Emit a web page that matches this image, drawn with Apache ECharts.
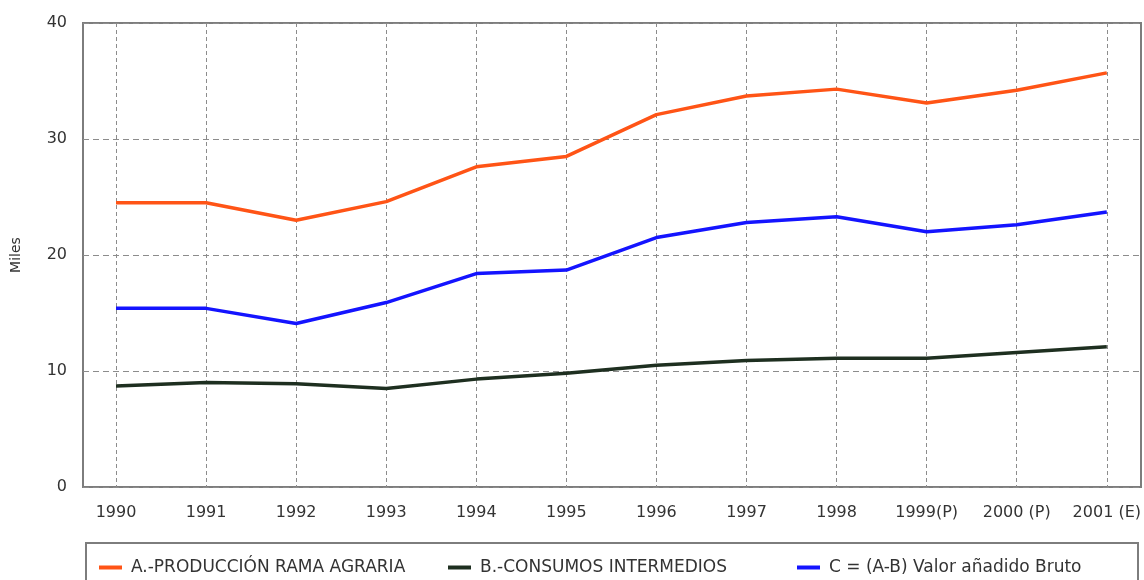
<!DOCTYPE html>
<html>
<head>
<meta charset="utf-8">
<script src="https://cdn.jsdelivr.net/npm/echarts@6/dist/echarts.min.js"></script>
<style>
html,body{margin:0;padding:0;background:#fff;}
#chart{width:1144px;height:580px;}
</style>
</head>
<body>
<div id="chart"></div>
<script>
var categories = ['1990','1991','1992','1993','1994','1995','1996','1997','1998','1999(P)','2000 (P)','2001 (E)'];
var produccion = [24.5,24.5,23.0,24.6,27.6,28.5,32.1,33.7,34.3,33.1,34.2,35.7];
var consumos   = [8.7,9.0,8.9,8.5,9.3,9.8,10.5,10.9,11.1,11.1,11.6,12.1];
var valor      = [15.4,15.4,14.1,15.9,18.4,18.7,21.5,22.8,23.3,22.0,22.6,23.7];
var yTicks = [0,10,20,30,40];
var names = ['A.-PRODUCCIÓN RAMA AGRARIA','B.-CONSUMOS INTERMEDIOS','C = (A-B) Valor añadido Bruto'];
var colors = ['#ff5416','#1e2f20','#1414ff'];

var chart = echarts.init(document.getElementById('chart'), null, {renderer:'canvas'});
var font = "'DejaVu Sans', sans-serif";
function mkLegend(i, left){
  return {
    data:[{name:names[i], icon:'rect'}],
    left:left, top:559,
    itemWidth:23, itemHeight:4,
    textStyle:{fontFamily:font, fontSize:17, color:'#333', padding:[0,0,0,4]},
    padding:0, itemGap:8
  };
}
chart.setOption({
  animation:false,
  backgroundColor:'#fff',
  grid:[
    {left:83, right:3, top:23, bottom:93, show:true, borderColor:'#7d7d7d', borderWidth:2, backgroundColor:'transparent'},
    {left:116, right:36, top:23, bottom:93}
  ],
  xAxis:[
    {gridIndex:0, type:'value', min:0, max:1, show:false},
    {gridIndex:1, type:'category', data:categories, boundaryGap:false,
     axisLine:{show:false}, axisTick:{show:false},
     axisLabel:{interval:0, margin:18, fontSize:16, fontFamily:font, color:'#333'},
     splitLine:{show:true, lineStyle:{type:[4,3], color:'#8c8c8c', width:1}}}
  ],
  yAxis:[
    {gridIndex:0, type:'value', min:yTicks[0], max:yTicks[yTicks.length-1], interval:10,
     name:'Miles', nameLocation:'middle', nameGap:60, nameRotate:90,
     nameTextStyle:{fontFamily:font, fontSize:14, color:'#333'},
     axisLine:{show:false}, axisTick:{show:false},
     axisLabel:{margin:16, fontSize:16, fontFamily:font, color:'#333'},
     splitLine:{show:true, lineStyle:{type:[6,4], color:'#8c8c8c', width:1}}},
    {gridIndex:1, type:'value', min:yTicks[0], max:yTicks[yTicks.length-1], show:false}
  ],
  legend:[mkLegend(0,99), mkLegend(1,448), mkLegend(2,797)],
  graphic:[{type:'rect', shape:{x:86, y:543, width:1052, height:60}, style:{fill:'none', stroke:'#7d7d7d', lineWidth:2}}],
  series:[
    {name:names[0], type:'line', xAxisIndex:1, yAxisIndex:1, data:produccion, symbol:'none', lineStyle:{color:colors[0], width:3.5}, itemStyle:{color:colors[0]}},
    {name:names[1], type:'line', xAxisIndex:1, yAxisIndex:1, data:consumos, symbol:'none', lineStyle:{color:colors[1], width:3.5}, itemStyle:{color:colors[1]}},
    {name:names[2], type:'line', xAxisIndex:1, yAxisIndex:1, data:valor, symbol:'none', lineStyle:{color:colors[2], width:3.5}, itemStyle:{color:colors[2]}}
  ]
});
</script>
</body>
</html>
